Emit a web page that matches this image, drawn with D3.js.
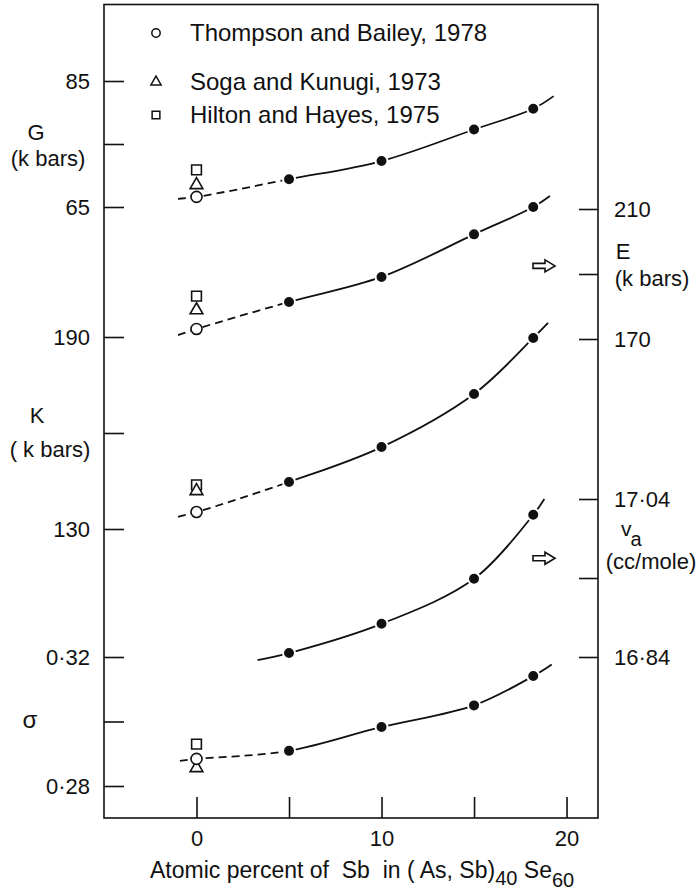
<!DOCTYPE html>
<html lang="en">
<head>
  <meta charset="UTF-8" />
  <title>Elastic moduli vs Sb content</title>
  <script src="https://cdn.jsdelivr.net/npm/d3@7"></script>
  <style>
    body { margin: 0; background: #fff; }
    svg text { font-family: "Liberation Sans", Arial, sans-serif; fill: #111; }
  </style>
</head>
<body>
<script>
  // x positions of the measured (filled) points
  var xFilled = [5, 10, 15, 18.2];
  var gFilled = [69.4, 72.3, 77.3, 80.6];
  var eFilled = [181.4, 189.1, 202.2, 210.6];
  var kFilled = [144.7, 155.6, 172.2, 189.7];
  var vaFilled = [16.845, 16.882, 16.939, 17.020];
  var sigmaFilled = [0.2909, 0.2983, 0.3050, 0.3141];

  // literature values at 0 % Sb: [G, E, K, sigma]
  var thompson = [66.6, 173.1, 135.3, 0.2884];
  var soga = [68.5, 178.9, 141.9, 0.2856];
  var hilton = [70.9, 183.2, 143.8, 0.2930];

  // where the drawn curves start and stop, [x, value]
  var gEnds = [[-1, 66.3], [19.3, 82.6]];
  var eEnds = [[-1, 171.2], [19.1, 214.0]];
  var kEnds = [[-1, 133.8], [19.0, 194.4]];
  var vaEnds = [[3.3, 16.836], [18.8, 17.04]];
  var sigmaEnds = [[-0.9, 0.2878], [19.2, 0.3177]];

  var xTicks = [0, 5, 10, 15, 20];
  var xLabels = [0, 10, 20];
  var gTicks = [65, 75, 85], gLabels = [65, 85];
  var kTicks = [130, 160, 190], kLabels = [130, 190];
  var sigmaTicks = [0.28, 0.30, 0.32], sigmaLabels = [0.28, 0.32];
  var eTicks = [170, 190, 210], eLabels = [170, 210];
  var vaTicks = [16.84, 16.94, 17.04], vaLabels = [16.84, 17.04];

  var legendNames = ["Thompson and Bailey, 1978", "Soga and Kunugi, 1973", "Hilton and Hayes, 1975"];

  var w = 700, h = 894;
  var mLeft = 104, mRight = 598, mTop = 4.5, mBottom = 818;

  var svg = d3.select("body").append("svg")
    .attr("width", w)
    .attr("height", h);

  var x = d3.scaleLinear().domain([-5, 21.7]).range([mLeft, mRight]);
  var yG = d3.scaleLinear().domain([65, 85]).range([207, 81]);
  var yE = d3.scaleLinear().domain([170, 210]).range([339, 209]);
  var yK = d3.scaleLinear().domain([130, 190]).range([529, 337]);
  var yVa = d3.scaleLinear().domain([16.84, 17.04]).range([657, 499]);
  var yS = d3.scaleLinear().domain([0.28, 0.32]).range([786, 657]);

  var dot = function(v, n) { return d3.format("." + n + "f")(v).replace(".", "\u00b7"); };

  // frame
  svg.append("rect")
    .attr("x", mLeft).attr("y", mTop)
    .attr("width", mRight - mLeft).attr("height", mBottom - mTop)
    .attr("fill", "none").attr("stroke", "#111").attr("stroke-width", 1.6);

  function styleAxis(g) {
    g.select(".domain").remove();
    g.selectAll("line").attr("stroke", "#111").attr("stroke-width", 1.6);
    g.selectAll("text").attr("font-size", "22px").attr("fill", "#111")
      .attr("font-family", "Liberation Sans, Arial, sans-serif");
  }

  function leftAxis(scale, ticks, labels, fmt) {
    svg.append("g")
      .attr("transform", "translate(" + mLeft + ",0)")
      .call(d3.axisLeft(scale).tickValues(ticks).tickSize(-20).tickPadding(14)
        .tickFormat(function(d) { return labels.indexOf(d) >= 0 ? fmt(d) : ""; }))
      .call(styleAxis);
  }
  function rightAxis(scale, ticks, labels, fmt) {
    svg.append("g")
      .attr("transform", "translate(" + mRight + ",0)")
      .call(d3.axisRight(scale).tickValues(ticks).tickSize(-19).tickPadding(16)
        .tickFormat(function(d) { return labels.indexOf(d) >= 0 ? fmt(d) : ""; }))
      .call(styleAxis);
  }

  leftAxis(yG, gTicks, gLabels, d3.format("d"));
  leftAxis(yK, kTicks, kLabels, d3.format("d"));
  leftAxis(yS, sigmaTicks, sigmaLabels, function(d) { return dot(d, 2); });
  rightAxis(yE, eTicks, eLabels, d3.format("d"));
  rightAxis(yVa, vaTicks, vaLabels, function(d) { return dot(d, 2); });

  svg.append("g")
    .attr("transform", "translate(0," + mBottom + ")")
    .call(d3.axisBottom(x).tickValues(xTicks).tickSize(-21).tickPadding(12)
      .tickFormat(function(d) { return xLabels.indexOf(d) >= 0 ? d : ""; }))
    .call(styleAxis);

  // clip regions: dashed before x = 5, solid after
  var defs = svg.append("defs");
  defs.append("clipPath").attr("id", "dashPart").append("rect")
    .attr("x", 0).attr("y", 0).attr("width", x(5)).attr("height", h);
  defs.append("clipPath").attr("id", "solidPart").append("rect")
    .attr("x", x(5)).attr("y", 0).attr("width", w).attr("height", h);

  var line = d3.line().curve(d3.curveCatmullRom.alpha(0.5));

  function curve(scale, zeroVal, filled, ends, withDash) {
    var pts = [ends[0]];
    if (zeroVal != null) pts.push([0, zeroVal]);
    filled.forEach(function(v, i) { pts.push([xFilled[i], v]); });
    pts.push(ends[1]);
    var xy = pts.map(function(p) { return [x(p[0]), scale(p[1])]; });
    if (withDash) {
      svg.append("path").attr("d", line(xy))
        .attr("clip-path", "url(#dashPart)")
        .attr("fill", "none").attr("stroke", "#111").attr("stroke-width", 1.8)
        .attr("stroke-dasharray", "8,5");
    }
    svg.append("path").attr("d", line(xy))
      .attr("clip-path", withDash ? "url(#solidPart)" : null)
      .attr("fill", "none").attr("stroke", "#111").attr("stroke-width", 1.8);
  }

  curve(yG, thompson[0], gFilled, gEnds, true);
  curve(yE, thompson[1], eFilled, eEnds, true);
  curve(yK, thompson[2], kFilled, kEnds, true);
  curve(yVa, null, vaFilled, vaEnds, false);
  curve(yS, thompson[3], sigmaFilled, sigmaEnds, true);

  var sym = {
    circle: d3.symbol().type(d3.symbolCircle).size(95),
    triangle: d3.symbol().type(d3.symbolTriangle).size(70),
    square: d3.symbol().type(d3.symbolSquare).size(95)
  };

  var scales = [yG, yE, yK, yS];
  function refMarks(vals, kind) {
    svg.selectAll(null)
      .data(vals)
      .enter()
      .append("path")
      .attr("d", sym[kind])
      .attr("transform", function(d, i) { return "translate(" + x(0) + "," + scales[i](d) + ")"; })
      .attr("fill", "#fff").attr("stroke", "#111").attr("stroke-width", 1.6);
  }
  refMarks(hilton, "square");
  refMarks(soga, "triangle");
  refMarks(thompson, "circle");

  // filled points
  [[yG, gFilled], [yE, eFilled], [yK, kFilled], [yVa, vaFilled], [yS, sigmaFilled]].forEach(function(s) {
    svg.selectAll(null)
      .data(s[1])
      .enter()
      .append("circle")
      .attr("cx", function(d, i) { return x(xFilled[i]); })
      .attr("cy", function(d) { return s[0](d); })
      .attr("r", 6)
      .attr("fill", "#111").attr("stroke", "#fff").attr("stroke-width", 2);
  });

  // legend
  var legendY = [33, 82, 115];
  var legend = svg.selectAll(".leg")
    .data(legendNames)
    .enter()
    .append("g")
    .attr("transform", function(d, i) { return "translate(156," + legendY[i] + ")"; });
  legend.append("path")
    .attr("d", function(d, i) { return d3.symbol().type(
      [d3.symbolCircle, d3.symbolTriangle, d3.symbolSquare][i]).size([55, 45, 60][i])(); })
    .attr("fill", "#fff").attr("stroke", "#111").attr("stroke-width", 1.5);
  legend.append("text")
    .attr("x", 34).attr("y", 8)
    .attr("font-size", "24px")
    .text(function(d) { return d; });

  // axis labels
  function label(tx, ty, s, size, anchor) {
    return svg.append("text").attr("x", tx).attr("y", ty)
      .attr("font-size", size + "px")
      .attr("text-anchor", anchor || "middle")
      .style("white-space", "pre")
      .text(s);
  }
  label(36, 140, "G", 22);
  label(48, 166, "(k bars)", 22);
  label(37, 423, "K", 22);
  label(50, 457, "( k bars)", 22);
  label(30, 728, "\u03c3", 24);
  label(623, 259, "E", 22);
  label(652, 286, "(k bars)", 22);
  var va = label(621, 536, "v", 21, "start");
  va.append("tspan").attr("dy", 10).attr("dx", -1).attr("font-size", "20px").text("a");
  label(651, 569, "(cc/mole)", 22);

  // right-pointing outline arrows for E and va
  var arrow = "M0,-2.5 L12,-2.5 L12,-6 L22,0 L12,6 L12,2.5 L0,2.5 Z";
  [yE(192.5), yVa(16.965)].forEach(function(yy) {
    svg.append("path").attr("d", arrow)
      .attr("transform", "translate(533," + yy + ")")
      .attr("fill", "#fff").attr("stroke", "#111").attr("stroke-width", 1.6);
  });

  // x axis title
  var title = svg.append("text")
    .attr("x", 150).attr("y", 878)
    .attr("font-size", "23px")
    .style("white-space", "pre");
  title.append("tspan").text("Atomic percent of  Sb  in ( As, Sb)");
  title.append("tspan").attr("dy", 7).attr("font-size", "20px").text("40");
  title.append("tspan").attr("dy", -7).text(" Se");
  title.append("tspan").attr("dy", 9).attr("font-size", "20px").text("60");
</script>
</body>
</html>
